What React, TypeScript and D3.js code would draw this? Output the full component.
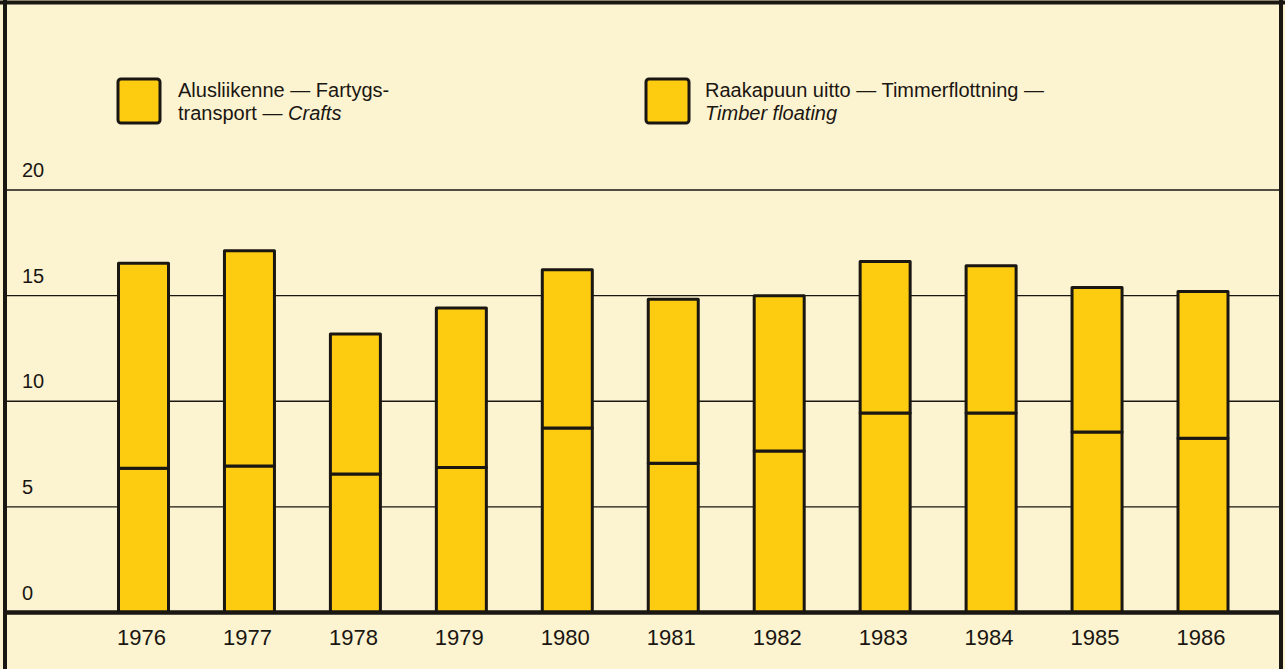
import React from 'react';
import * as d3 from 'd3';

// values (1000 t? units as printed)
const years = ['1976', '1977', '1978', '1979', '1980', '1981', '1982', '1983', '1984', '1985', '1986'];
const crafts = [6.83, 6.94, 6.56, 6.86, 8.73, 7.07, 7.65, 9.44, 9.44, 8.55, 8.25];
const timber = [9.7, 10.18, 6.62, 7.55, 7.49, 7.76, 7.34, 7.17, 6.97, 6.84, 6.94];
const yTicks = [0, 5, 10, 15, 20];

const W = 1285, H = 669;
const bg = '#fcf3d0';
const barFill = '#fdcc10';
const ink = '#1a1612';

const App = () => {
    const rows = years.map((yr, i) => ({year: yr, crafts: crafts[i], timber: timber[i]}));
    const series = d3.stack<any>().keys(['crafts', 'timber'])(rows);

    const x = d3.scalePoint().domain(years).range([143.5, 1203]);
    const y = d3.scaleLinear().domain([0, 20]).range([612.5, 190]);
    const barW = 50;

    return (
        <svg width={W} height={H} style={{position: 'absolute', left: 0, top: 0, display: 'block'}}
             fontFamily="'Liberation Sans', Arial, Helvetica, sans-serif">
            <rect x={0} y={0} width={W} height={H} fill={bg}/>

            {/* horizontal grid */}
            {yTicks.filter(t => t > 0).map(t => (
                <line key={t} x1={5} x2={1281} y1={y(t)} y2={y(t)} stroke={ink} strokeWidth={1.4}/>
            ))}
            {yTicks.map(t => (
                <text key={'l' + t} x={22} y={y(t) - 13} fontSize={20} fill={ink}>{t}</text>
            ))}

            {/* stacked bars */}
            {series.map(s => (
                <g key={s.key}>
                    {s.map((d, i) => (
                        <rect key={i} x={x(years[i])! - barW / 2} y={y(d[1])}
                              width={barW} height={y(d[0]) - y(d[1])}
                              fill={barFill} stroke={ink} strokeWidth={3} strokeLinejoin="round"/>
                    ))}
                </g>
            ))}

            {/* baseline */}
            <line x1={3} x2={1283} y1={y(0)} y2={y(0)} stroke={ink} strokeWidth={4.5}/>

            {years.map(yr => (
                <text key={yr} x={x(yr)! - 2} y={645} fontSize={22} textAnchor="middle" fill={ink}>{yr}</text>
            ))}

            {/* legend */}
            <rect x={118} y={79} width={42} height={44} rx={3} fill={barFill} stroke={ink} strokeWidth={3}/>
            <text x={178} y={97} fontSize={20} fill={ink}>Alusliikenne — Fartygs-</text>
            <text x={178} y={120} fontSize={20} fill={ink}>transport — <tspan fontStyle="italic">Crafts</tspan></text>

            <rect x={646} y={79} width={43} height={44} rx={3} fill={barFill} stroke={ink} strokeWidth={3}/>
            <text x={705} y={97} fontSize={20} fill={ink}>Raakapuun uitto — Timmerflottning —</text>
            <text x={705} y={120} fontSize={20} fill={ink} fontStyle="italic">Timber floating</text>

            {/* frame */}
            <line x1={5} x2={5} y1={0} y2={H} stroke={ink} strokeWidth={4}/>
            <line x1={1281} x2={1281} y1={0} y2={H} stroke={ink} strokeWidth={4}/>
            <line x1={0} x2={W} y1={2.5} y2={2.5} stroke={ink} strokeWidth={4}/>
        </svg>
    );
};

export default App;
